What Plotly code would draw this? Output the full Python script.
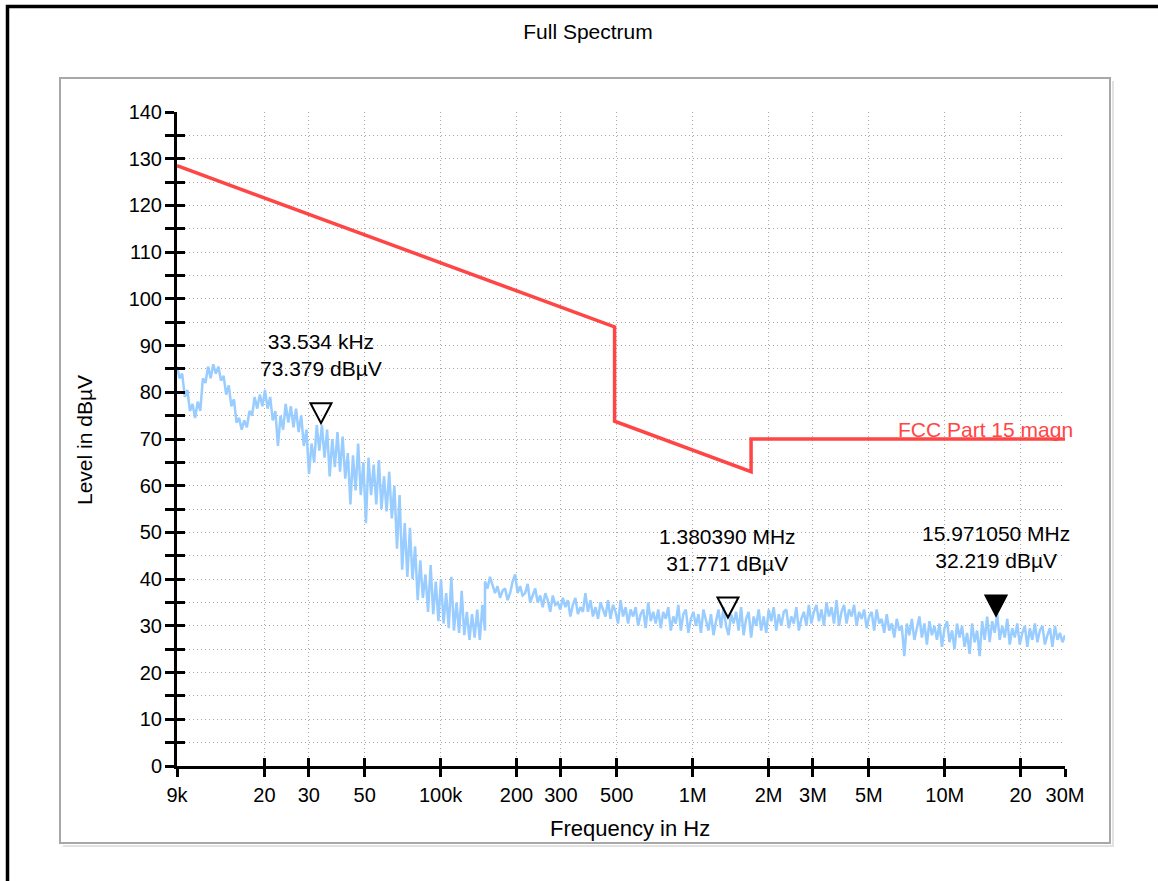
import math
import numpy as np
import plotly.graph_objects as go

# ---------------- data ----------------
# sweep band A (9 kHz .. 150 kHz), levels in dBuV
band_a_start_hz = 9e3
band_a_stop_hz = 150e3
level_a = [
    85.5, 83, 84, 79, 80.5, 76, 77.5, 74.5, 78, 76,
    83, 82, 85.5, 83, 86, 84, 85.5, 82.5, 83.5, 79.5,
    81.5, 77, 78.5, 73.5, 74.5, 72, 74, 72.5, 76, 75,
    79, 76.5, 79.5, 77, 80.5, 76.5, 79, 74, 76, 68.5,
    75, 72, 77.5, 73.5, 77, 72.5, 76.5, 71.5, 75, 68.5,
    72, 62.5, 69, 65, 73, 67.5, 73, 66, 72, 62,
    70, 64, 71.5, 63, 70.5, 61.5, 67, 56, 66.5, 59,
    69, 58, 65, 52, 66, 58, 64.5, 56, 65.5, 55,
    62, 54.5, 63, 53, 60, 46.5, 58, 42, 52, 40.5,
    51, 40, 47, 35.5, 44, 36, 41, 33, 43, 32.5,
    39.5, 31, 40, 30.5, 37, 29.5, 40.5, 29, 35, 28.5,
    37.5, 28, 33, 27, 32.5, 27.5, 33.5, 27, 34.5, 29,
]
# sweep band B (150 kHz .. 30 MHz), levels in dBuV
band_b_start_hz = 150e3
band_b_stop_hz = 30e6
level_b = [
    39.5, 38, 40.5, 38.5, 37, 38.5, 36, 37.5, 38, 35.5,
    37, 39.5, 41, 37, 38.5, 36.5, 37, 39, 35, 36.5,
    38, 35, 36.5, 34, 37, 35.5, 33, 36.5, 34.5, 35,
    33.5, 36, 34, 35.5, 32, 34.5, 36, 32.5, 34, 33,
    37, 33, 35.5, 32, 34, 31.5, 35, 33.5, 32, 35.5,
    31.5, 34.5, 33, 30.5, 35.5, 32, 34, 30.5, 33.5, 32,
    34, 30, 32.5, 33.5, 29.5, 35, 31, 33, 30.5, 33.5,
    29.5, 33, 31.5, 34, 29, 32, 30.5, 34.5, 29, 32.5,
    33.5, 28.5, 31.5, 33, 30, 32.5, 28.5, 33.5, 31, 29,
    32.5, 28, 31, 33.5, 29.5, 34, 30, 28, 32.5, 30.5,
    33, 29, 34, 28, 31.5, 33, 27.5, 32, 30, 33.5,
    29, 32, 28.5, 33.5, 31, 34, 29, 32.5, 30, 33,
    33.5, 29.5, 32, 30.5, 34, 29, 31.5, 33, 30, 34.5,
    30.5, 33, 34.5, 31, 33.5, 30, 35, 32, 34, 30.5,
    35.5, 30, 33, 34.5, 30.5, 33.5, 32, 34.5, 30, 33,
    31.5, 33.5, 29.5, 32, 33, 29, 33.5, 30.5, 31.5, 28.5,
    32.5, 29, 30.5, 27.5, 31.5, 29, 30, 23.5, 30.5, 28,
    31.5, 27, 29.5, 32, 27.5, 30.5, 26, 31, 28, 30,
    27, 30.5, 25.5, 29.5, 31, 26.5, 29, 25, 30.5, 27.5,
    30, 25.5, 28.5, 24, 30.5, 26.5, 29, 23.5, 31, 27,
    32, 26.5, 31, 28.5, 32.5, 27, 30, 27.5, 31.5, 26,
    29.5, 27.5, 30.5, 26, 28.5, 30, 25.5, 29.5, 27, 30.5,
    26.5, 29, 30, 26, 28, 29.5, 25.5, 30, 27, 28.5,
    26.5, 28,
]

# FCC Part 15 limit line
limit_freq = [9e3, 490e3, 490e3, 1.705e6, 1.705e6, 30e6]
limit_level = [128.5, 94.0, 73.8, 63.0, 70.0, 70.0]
limit_name = "FCC Part 15 magn"

# markers
marker_freq = [33534, 1380390, 15971050]
marker_level = [73.379, 31.771, 32.219]
marker_text = ["33.534 kHz<br>73.379 dBµV",
               "1.380390 MHz<br>31.771 dBµV",
               "15.971050 MHz<br>32.219 dBµV"]
marker_filled = [False, False, True]

# axes
x_tickvals = [9e3, 20e3, 30e3, 50e3, 100e3, 200e3, 300e3, 500e3,
              1e6, 2e6, 3e6, 5e6, 10e6, 20e6, 30e6]
x_ticktext = ["9k", "20", "30", "50", "100k", "200", "300", "500",
              "1M", "2M", "3M", "5M", "10M", "20", "30M"]
x_min, x_max = 9e3, 30e6
y_min, y_max = 0, 140

# ---------------- styling ----------------
W, H = 1158, 881
L, R, T, B = 177, 1065, 112, 766   # plot area in pixels
FONT = "Liberation Sans, Arial, Helvetica, sans-serif"
BLUE = "#99ccff"
RED = "#ff4646"
GRID = "#a8a8a8"
TXT = 21
TICK = 20


def px_x(px):
    return (px - L) / (R - L)


def px_y(py):
    return (B - py) / (B - T)


freq_a = np.geomspace(band_a_start_hz, band_a_stop_hz, len(level_a))
freq_b = np.geomspace(band_b_start_hz, band_b_stop_hz, len(level_b))
spec_freq = np.concatenate([freq_a, freq_b])
spec_level = np.concatenate([level_a, level_b])

fig = go.Figure()
fig.add_trace(go.Scatter(x=spec_freq, y=spec_level, mode="lines",
                         line=dict(color=BLUE, width=2.5), hoverinfo="skip",
                         name="Spectrum"))
fig.add_trace(go.Scatter(x=limit_freq, y=limit_level, mode="lines",
                         line=dict(color=RED, width=3.5), name=limit_name))
# helper trace for the overlay axes (inner halves of the crossing ticks)
fig.add_trace(go.Scatter(x=[], y=[], xaxis="x2", yaxis="y2", showlegend=False))

grid_common = dict(showgrid=True, gridcolor=GRID, gridwidth=1, griddash="1px,3px")

fig.update_layout(
    width=W, height=H, autosize=False,
    margin=dict(l=L, r=W - R, t=T, b=H - B, pad=0),
    paper_bgcolor="white", plot_bgcolor="white",
    showlegend=False,
    font=dict(family=FONT, size=TXT, color="black"),
    title=dict(text="Full Spectrum", x=588 / W, xanchor="center",
               y=1 - 32 / H, yanchor="middle", font=dict(size=TXT)),
    xaxis=dict(type="log", range=[math.log10(x_min), math.log10(x_max)],
               tickmode="array", tickvals=x_tickvals, ticktext=x_ticktext,
               ticks="outside", ticklen=8, tickwidth=2.5, tickcolor="black",
               showline=True, linecolor="black", linewidth=3,
               zeroline=False, tickfont=dict(size=TICK),
               ticklabelstandoff=1, **grid_common),
    yaxis=dict(range=[y_min, y_max], tick0=0, dtick=10,
               ticks="outside", ticklen=9, tickwidth=2.5, tickcolor="black",
               showline=True, linecolor="black", linewidth=3,
               zeroline=False, tickfont=dict(size=TICK),
               ticklabelstandoff=-1,
               minor=dict(dtick=5, ticks="outside", ticklen=9, tickwidth=2.5,
                          tickcolor="black", showgrid=True, gridcolor=GRID,
                          gridwidth=1, griddash="1px,3px"),
               **grid_common),
    xaxis2=dict(type="log", range=[math.log10(x_min), math.log10(x_max)],
                overlaying="x", side="bottom", anchor="y2",
                tickmode="array", tickvals=x_tickvals,
                ticks="inside", ticklen=8, tickwidth=2.5, tickcolor="black",
                showticklabels=False, showgrid=False, showline=False,
                zeroline=False),
    yaxis2=dict(range=[y_min, y_max], overlaying="y", side="left",
                anchor="x2", tick0=0, dtick=10,
                ticks="inside", ticklen=8, tickwidth=2.5, tickcolor="black",
                minor=dict(dtick=5, ticks="inside", ticklen=8, tickwidth=2.5,
                           tickcolor="black", showgrid=False),
                showticklabels=False, showgrid=False, showline=False,
                zeroline=False),
)

# axis titles
fig.add_annotation(text="Frequency in Hz", xref="paper", yref="paper",
                   x=px_x(630), y=px_y(828), xanchor="center", yanchor="middle",
                   showarrow=False, font=dict(size=22))
fig.add_annotation(text="Level in dBµV", xref="paper", yref="paper",
                   x=px_x(85), y=px_y(440), xanchor="center", yanchor="middle",
                   textangle=-90, showarrow=False, font=dict(size=TXT))

# limit label
fig.add_annotation(text=limit_name, xref="paper", yref="y",
                   x=px_x(1075), y=limit_level[-1], xanchor="right",
                   yanchor="bottom", yshift=-4, showarrow=False,
                   font=dict(size=TXT, color=RED))

# markers (triangle tip sits on the marker level)
for f, lv, txt, filled in zip(marker_freq, marker_level, marker_text, marker_filled):
    fig.add_shape(type="path", xref="x", yref="y",
                  xsizemode="pixel", ysizemode="pixel",
                  xanchor=f, yanchor=lv,
                  path="M -10.5,20 L 10.5,20 L 0,0 Z",
                  line=dict(color="black", width=2),
                  fillcolor="black" if filled else "rgba(0,0,0,0)")
    fig.add_annotation(text=txt, x=math.log10(f), y=lv, xref="x", yref="y",
                       xanchor="center", yanchor="bottom", yshift=41,
                       showarrow=False, font=dict(size=TXT), align="center")

# outer gray frame with light shadow
bx0, bx1, by0, by1 = 60, 1110, 78, 843
fig.add_shape(type="path", xref="paper", yref="paper",
              path=(f"M {px_x(bx0 + 3)},{px_y(by1 + 3)} L {px_x(bx1 + 3)},{px_y(by1 + 3)} "
                    f"L {px_x(bx1 + 3)},{px_y(by0 + 3)}"),
              line=dict(color="#e2e2e2", width=2), layer="below")
fig.add_shape(type="rect", xref="paper", yref="paper",
              x0=px_x(bx0), x1=px_x(bx1), y0=px_y(by1), y1=px_y(by0),
              line=dict(color="#a8a8a8", width=2), layer="below")
# black window border (left + top)
fig.add_shape(type="path", xref="paper", yref="paper",
              path=(f"M {px_x(7.5)},{px_y(900)} L {px_x(7.5)},{px_y(6.5)} "
                    f"L {px_x(1180)},{px_y(6.5)}"),
              line=dict(color="black", width=3.5), layer="above")

fig.write_html("out.html")
